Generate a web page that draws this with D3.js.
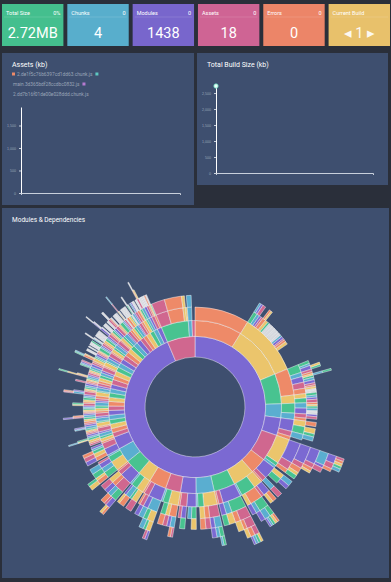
<!DOCTYPE html>
<html lang="en">
<head>
<meta charset="UTF-8">
<title>Build Monitor</title>
<style>
    body { margin: 0; background: #2a2f3a; overflow: hidden; }
    svg { display: block; font-family: Roboto, "Open Sans", sans-serif; }
</style>
</head>
<body>
<svg id="svg" width="391" height="582"></svg>
<script src="https://cdnjs.cloudflare.com/ajax/libs/d3/7.8.5/d3.min.js"></script>
<script>
// ---- stat cards
var cardNames = ["Total Size", "Chunks", "Modules", "Assets", "Errors", "Current Build"];
var cardValues = ["2.72MB", "4", "1438", "18", "0", "1"];
var cardBadges = ["0%", "0", "0", "0", "0", ""];

// ---- assets chart
var assetNames = ["2.de1f5c76b6397cd1dd63.chunk.js", "main.3d365bdf28ccdbc0832.js", "2.dd7b16f01de00e028ddd.chunk.js"];
var assetSizes = [1911, 602, 207];

// ---- total build size chart
var builds = [1];
var buildSizes = [2720];

// ---- module tree (sizes are relative)
// a node is a number (leaf), [name, ownSize, ...children], or {grey: [leaf sizes]}
var rightModules = [
    ["webpack", 0, ["webpack", 32]],
    ["lodash", 0, ["lodash", 12, ["", 0, 1, 1], ["", 0, 1.5], 1.2, 1, ["", 0, 1, 0.8], 1.5, 1,
        {grey: [1.2, 1, 1.5, 1, 1.2, 1.4, 1]}, 1, 1.3, 0.8, 1.2, 1.5]],
    ["react-dom", 0,
        ["", 0, ["", 0, 1.5, 1, ["", 0, 1, 0.8]], ["", 0, 1.2, 1], ["", 0, ["", 0, ["", 0, ["", 0.8]]], 1, 1.2],
            ["", 0, 1.4, 1, 0.8], ["", 0, 1, {grey: [0.8, 1]}]],
        ["", 0, ["", 0, 1.3, 1], ["", 0, 1, 1.5]]],
    ["axios", 0, ["", 0, ["", 0, 1, 0.8, 1], ["", 0, 1.2, {grey: [0.8, 1]}]], ["", 0, ["", 0, 1, 1.2], 1.5]]
];

var bottomModules = [
    ["react", 0, ["", 0, ["", 1, 2], ["", 0, 2.5, 1.5]], ["", 0, ["", 1, 2]], 2],
    ["core-js", 0,
        ["", 0,
            ["", 0,
                ["", 0,
                    ["", 0,
                        ["", 0, ["", 0, 1, 1, 1], ["", 0, 1, 1.2]],
                        ["", 0, 1.2]],
                    ["", 0, 2]],
                ["", 0, 1.5, 1]],
            ["", 0, 2.5, 1.5]],
        ["", 0, ["", 0, 2]], 1.5],
    ["", 0, ["", 2, ["", 0, 2.5], ["", 1, 2]], ["", 0, ["", 0, 2.5]], 1],
    ["", 0, ["", 0, ["", 0, 2, 1.5], ["", 1.5]],
        ["", 0, ["", 0, ["", 0, ["", 0, 1, 1], ["", 0, 1, 0.8, 0.8]], ["", 0, 2]], ["", 0, 2]], 1],
    ["", 0, ["", 0, ["", 0, ["", 0, ["", 0, ["", 0, 1, 1], ["", 0, 1, 0.8]], ["", 0, 1.5]], ["", 0, 2.5]], ["", 0, 3]],
        ["", 0, ["", 0, 2.5]], 1],
    ["", 0, ["", 0, ["", 0, ["", 0, ["", 0, 1, 0.8], 1.5], ["", 0, 2]], ["", 0, 2.5]], ["", 1, ["", 0, 2.5]], 1],
    ["", 0, ["", 1, ["", 0, 2.5], ["", 2]], ["", 0, ["", 0, 2.5], 1.5], 1],
    ["", 0, ["", 0, ["", 0, ["", 0, 1, 1.2], 1.5], ["", 0, 2]], ["", 1, ["", 0, 2.5]], 1],
    ["", 0, ["", 0, ["", 0, ["", 0, ["", 0, 1, 1], 1.2], ["", 0, 2]], ["", 0, 2.5]], ["", 0, ["", 0, 2], 1], 1],
    ["", 0, ["", 0, ["", 0, 3], 1.2], ["", 0, ["", 0, 2.5], ["", 0, 1.2]], 1],
    ["", 0, ["", 0, ["", 0, ["", 0, ["", 0, 1, 1], 1], ["", 0, 2]], ["", 0, 2.2]], ["", 0, ["", 0, 2.5]], 1],
    ["", 0, ["", 0, ["", 0, ["", 0, 2], ["", 0, 1.2]], ["", 0, 2.5]], ["", 0, ["", 0, 2.5], 1], 1],
    ["", 0, ["", 0, ["", 0, 2], ["", 0, 2]], ["", 0, ["", 0, 1.5], 1, 1], 1]
];

var leftModules = [
    ["", 0, ["", 0, 1, 0.8], ["", 0, 1.2]],
    ["", 0, ["", 0, ["", 0, ["", 0, 0.5], 0.6], 0.8], ["", 0, 1]],
    ["", 0, ["", 0, 0.8, 0.7, 0.8], ["", 0, 0.8]],
    ["", 0, ["", 0, ["", 0, 0.6, 0.6], 1], ["", 0, 0.8]],
    ["", 0, ["", 0, 1, 1], ["", 0, 1]],
    ["", 0, ["", 0, ["", 0, ["", 0, ["", 0.6]], 0.6], 0.8], ["", 0, 0.6, 0.6]],
    ["", 0, ["", 0, 0.8, 0.8], ["", 0, 0.7, 0.7]],
    ["", 0, ["", 0, ["", 0, 0.6, 0.7], 0.8], ["", 0, 1]],
    ["", 0, ["", 0, 1.2], ["", 0, 0.8, 0.8]],
    ["", 0, ["", 0, ["", 0, ["", 0, 0.5, 0.5], 0.6], 0.7], ["", 0, 0.7]],
    ["", 0, ["", 0, 0.9, 0.9], ["", 0, 1.1]],
    ["", 0, ["", 0, ["", 0, 0.7], 0.8], ["", 0, 0.7, 0.7]],
    ["", 0, ["", 0, ["", 0, ["", 0, ["", 0, 0.5]], 0.5], 0.8], ["", 0, 1, 0.6]],
    ["", 0, ["", 0, 0.8, 0.8], ["", 0, ["", 0, 0.6, 0.6]]],
    ["", 0, ["", 0, ["", 0, 0.7, 0.6], 1], ["", 0, 0.8]],
    ["", 0, ["", 0, ["", 0, ["", 0, 0.5, 0.5], 0.5], 0.7], ["", 0, 0.8]],
    ["", 0, ["", 0, ["", 0, {grey: [0.6, 0.5]}], 0.8], ["", 0, ["", 0, {grey: [0.6]}], 0.6]],
    ["", 0, ["", 0, ["", 0, {grey: [0.5, 0.6, 0.5]}], ["", 0, 0.7]], ["", 0, 0.8]],
    ["", 0, ["", 0, ["", 0, ["", 0, {grey: [0.5]}], {grey: [0.6]}], 0.7], ["", 0, ["", 0, {grey: [0.6, 0.6]}]]],
    ["", 0, ["", 0, ["", 0, {grey: [0.6, 0.6]}], ["", 0, {grey: [0.7]}]], ["", 0, 0.9]],
    ["", 0, ["", 0, ["", 0, ["", 0, ["", 0, {grey: [0.4]}], {grey: [0.5]}], {grey: [0.5]}], 0.7], ["", 0, ["", 0, {grey: [0.7]}]]],
    ["", 0, ["", 0, ["", 0, {grey: [0.5, 0.5]}], 0.7], ["", 0, ["", 0, {grey: [0.6, 0.5]}]]],
    ["", 0, ["", 0, ["", 0, ["", 0, {grey: [0.5, 0.4]}], 0.6], ["", 0, {grey: [0.6]}]], ["", 0, 0.8]],
    ["", 0, ["", 0, ["", 0, {grey: [0.6, 0.6, 0.5]}]], ["", 0, ["", 0, {grey: [0.7]}], 0.6]],
    ["", 0, ["", 0, ["", 0, ["", 0, ["", 0, 0.4]], {grey: [0.5]}], {grey: [0.6]}], ["", 0, ["", 0, {grey: [0.6, 0.6]}]]],
    ["", 0, ["", 0, ["", 0, {grey: [0.5, 0.6]}], ["", 0, {grey: [0.6]}]], ["", 0, {grey: [0.7]}]],
    ["", 0, ["", 0, ["", 0, ["", 0, {grey: [0.5]}], {grey: [0.5]}], 0.7], ["", 0, ["", 0, 0.6, 0.6]]],
    ["", 0, ["", 0, ["", 0, {grey: [0.6, 0.6]}], 0.6], ["", 0, ["", 0, {grey: [0.5, 0.5]}]]],
    ["", 0, ["", 0, ["", 0, ["", 0, ["", 0, {grey: [0.4]}], 0.5], {grey: [0.5]}]], ["", 0, ["", 0, {grey: [0.7, 0.6]}]]],
    ["", 0, ["", 0, ["", 0, {grey: [0.6, 0.5]}], ["", 0, 0.7]], ["", 0, ["", 0, {grey: [0.6]}], 0.5]]
];

var srcModules = [
    ["react-dom", 0, ["core-js", 0, ["core-js", 7]], ["webpack", 0, ["webpack", 9]], ["lodash", 0, ["lodash", 1.5]], 1],
    ["axios", 0, ["axios", 0, ["axios", 2.5]]],
    2
];

var palette = ["#7b69d2", "#d0678f", "#ee8a68", "#ebc56c", "#48c390", "#5aaed0"];
var greyColor = "#d6d8de";

var svg = d3.select("#svg");

// ---------- cards
var cardX = d3.scaleBand().domain(cardNames).range([2, 390]).paddingInner(0.06);
var cards = svg.selectAll("g.card").data(cardNames).enter().append("g")
    .attr("class", "card")
    .attr("transform", function (d) { return "translate(" + cardX(d) + ",4)"; });
cards.append("rect")
    .attr("width", cardX.bandwidth()).attr("height", 42)
    .attr("fill", function (d, i) { return ["#44bf8e", "#58aecc", "#7866cc", "#cf6494", "#ec8568", "#e8c16b"][i]; });
cards.append("line")
    .attr("x1", 2).attr("x2", cardX.bandwidth() - 2).attr("y1", 13).attr("y2", 13)
    .attr("stroke", "rgba(255,255,255,0.25)").attr("stroke-width", 0.5);
cards.append("text")
    .attr("x", 4).attr("y", 10.5).attr("fill", "#fff").attr("font-size", 5.5)
    .text(function (d) { return d; });
cards.append("text")
    .attr("x", cardX.bandwidth() - 3).attr("y", 10.5).attr("fill", "#fff").attr("font-size", 5.5)
    .attr("text-anchor", "end")
    .text(function (d, i) { return cardBadges[i]; });
cards.append("text")
    .attr("x", cardX.bandwidth() / 2).attr("y", 34).attr("fill", "#fff")
    .attr("font-size", 14.5).attr("text-anchor", "middle")
    .text(function (d, i) { return i === 5 ? "\u25C2 " + cardValues[i] + " \u25B8" : cardValues[i]; })
    .attr("opacity", function (d, i) { return i === 5 ? 0.9 : 1; });

// ---------- panels
var panelBg = "#3e4f6f";
svg.append("rect").attr("x", 2).attr("y", 53).attr("width", 192).attr("height", 152).attr("fill", panelBg);
svg.append("rect").attr("x", 197).attr("y", 53).attr("width", 191).attr("height", 132).attr("fill", panelBg);
svg.append("rect").attr("x", 2).attr("y", 208).attr("width", 387).attr("height", 370).attr("fill", panelBg);

svg.append("text").attr("x", 12).attr("y", 67).attr("fill", "#fff").attr("font-size", 7).text("Assets (kb)");
svg.append("text").attr("x", 207).attr("y", 67).attr("fill", "#fff").attr("font-size", 7).text("Total Build Size (kb)");
svg.append("text").attr("x", 12).attr("y", 222).attr("fill", "#fff").attr("font-size", 6.5).text("Modules & Dependencies");

// ---------- assets legend
var assetColor = d3.scaleOrdinal().domain(assetNames).range(["#ee8a68", "#5ec7c0", "#b57ad0"]);
var legendY = [76, 86, 96];
var lastEnd = 0;
assetNames.forEach(function (name, i) {
    var sx = i === 0 ? 12 : lastEnd + 3;
    var sy = i === 0 ? legendY[0] : legendY[i - 1];
    svg.append("rect").attr("x", sx).attr("y", sy - 3.5).attr("width", 3).attr("height", 3)
        .attr("fill", assetColor(name));
    var t = svg.append("text").attr("x", i === 0 ? 17 : 13).attr("y", legendY[i])
        .attr("fill", "#9aa5b8").attr("font-size", 4.8).text(name);
    lastEnd = (i === 0 ? 17 : 13) + t.node().getComputedTextLength();
});

function styleAxis(g, domainColor) {
    g.select(".domain").attr("stroke", domainColor);
    g.selectAll(".tick line").attr("stroke", "#c8d0dc");
    g.selectAll(".tick text").attr("fill", "#9aa5b8").attr("font-size", 3.6);
}

// ---------- assets chart
var ay = d3.scaleLinear().domain([0, d3.max(assetSizes)]).range([193, 107]);
var ax = d3.scalePoint().domain(builds).range([21, 180]).align(0);
svg.append("g").attr("transform", "translate(0,193)")
    .call(d3.axisBottom(ax).tickValues([]).tickSizeOuter(2))
    .call(styleAxis, "#c8d0dc");
svg.append("g").attr("transform", "translate(21,0)")
    .call(d3.axisLeft(ay).ticks(4).tickSize(2).tickSizeOuter(0))
    .call(styleAxis, "#ffffff");
assetNames.forEach(function (name, i) {
    svg.append("path")
        .datum([{b: builds[0], v: assetSizes[i]}])
        .attr("fill", "none").attr("stroke", assetColor(name))
        .attr("d", d3.line().x(function (d) { return ax(d.b); }).y(function (d) { return ay(d.v); }));
});

// ---------- total build size chart
var by = d3.scaleLinear().domain([0, d3.max(buildSizes)]).range([173, 86]);
var bx = d3.scalePoint().domain(builds).range([216, 373]).align(0);
svg.append("g").attr("transform", "translate(0,173)")
    .call(d3.axisBottom(bx).tickValues([]).tickSizeOuter(2))
    .call(styleAxis, "#c8d0dc");
svg.append("g").attr("transform", "translate(216,0)")
    .call(d3.axisLeft(by).ticks(6).tickSize(2).tickSizeOuter(0))
    .call(styleAxis, "#ffffff");
svg.selectAll("circle.build").data(buildSizes).enter().append("circle")
    .attr("class", "build")
    .attr("cx", function (d, i) { return bx(builds[i]); })
    .attr("cy", function (d) { return by(d); })
    .attr("r", 2.2).attr("fill", "#eafff9").attr("stroke", "#64d8bb").attr("stroke-width", 0.8);

// ---------- sunburst
var autoId = 0;
function parse(item) {
    if (typeof item === "number") return {name: "m" + (autoId++), size: item};
    var node = {name: item[0] || "m" + (autoId++), size: item[1], children: []};
    item.slice(2).forEach(function (k) {
        if (k.grey) {
            k.grey.forEach(function (v) { node.children.push({name: "g" + (autoId++), size: v, grey: true}); });
        } else {
            node.children.push(parse(k));
        }
    });
    if (!node.children.length) delete node.children;
    return node;
}

var tree = {
    name: "root", size: 0, children: [
        parse(["node_modules", 0].concat(rightModules, bottomModules, leftModules)),
        parse(["src", 0].concat(srcModules))
    ]
};

var root = d3.hierarchy(tree).sum(function (d) { return d.size; });
d3.partition().size([2 * Math.PI, root.height + 1])(root);

var radius = d3.scaleSqrt().domain([0, 10]).range([0, 158]);
var color = d3.scaleOrdinal(palette);
var arc = d3.arc()
    .startAngle(function (d) { return d.x0; })
    .endAngle(function (d) { return d.x1; })
    .innerRadius(function (d) { return radius(d.depth); })
    .outerRadius(function (d) { return radius(d.depth + 1); });

var sun = svg.append("g").attr("transform", "translate(195,407)");
sun.selectAll("path")
    .data(root.descendants().slice(1))
    .enter().append("path")
    .attr("d", arc)
    .attr("fill", function (d) { return d.data.grey ? greyColor : color(d.data.name); })
    .attr("stroke", "rgba(255,255,255,0.85)")
    .attr("stroke-width", 0.5);
</script>
</body>
</html>
